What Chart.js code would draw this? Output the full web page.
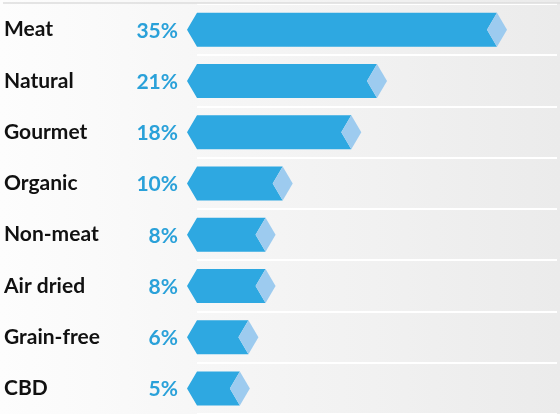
<!DOCTYPE html>
<html>
<head>
<meta charset="utf-8">
<script src="https://cdn.jsdelivr.net/npm/chart.js@4"></script>
<style>
  body { margin: 0; background: #fff; }
  #wrap { width: 560px; height: 414px; }
</style>
</head>
<body>
<div id="wrap"><canvas id="tiposChart"></canvas></div>
<script>
// dados do gráfico
const categorias = ['Meat', 'Natural', 'Gourmet', 'Organic', 'Non-meat', 'Air dried', 'Grain-free', 'CBD'];
const percentuais = [35, 21, 18, 10, 8, 8, 6, 5];

const azul = '#2ea8e1';
const azulClaro = '#9dcbef';
const fonte = 'Lato';

// fundo em degradê + linha cinza no topo
const fundoPlugin = {
  id: 'fundo',
  beforeDraw(chart) {
    const c = chart.ctx;
    const g = c.createLinearGradient(0, 0, chart.width, 0);
    g.addColorStop(0, '#fdfdfd');
    g.addColorStop(1, '#ebebeb');
    c.save();
    c.fillStyle = g;
    c.fillRect(0, 0, chart.width, chart.height);
    c.restore();
  },
  afterDraw(chart) {
    const c = chart.ctx;
    c.save();
    c.strokeStyle = '#dcdcdc';
    c.lineWidth = 1.5;
    c.beginPath();
    c.moveTo(3, 3);
    c.lineTo(chart.width, 3);
    c.stroke();
    c.restore();
  }
};

// barras em formato de seta + valores
const setasPlugin = {
  id: 'setas',
  afterDatasetsDraw(chart) {
    const c = chart.ctx;
    const meta = chart.getDatasetMeta(0);
    c.save();
    meta.data.forEach((bar, i) => {
      const p = bar.getProps(['x', 'y', 'base', 'height'], true);
      const top = p.y - p.height / 2;
      const bottom = p.y + p.height / 2;
      const ponta = 10;

      c.fillStyle = azul;
      c.beginPath();
      c.moveTo(p.base - ponta, p.y);
      c.lineTo(p.base, top);
      c.lineTo(p.x, top);
      c.lineTo(p.x - ponta, p.y);
      c.lineTo(p.x, bottom);
      c.lineTo(p.base, bottom);
      c.closePath();
      c.fill();

      c.fillStyle = azulClaro;
      c.beginPath();
      c.moveTo(p.x - ponta, p.y);
      c.lineTo(p.x, top);
      c.lineTo(p.x + ponta, p.y);
      c.lineTo(p.x, bottom);
      c.closePath();
      c.fill();

      c.fillStyle = '#2aa1d9';
      c.font = 'bold 21px ' + fonte;
      c.textAlign = 'right';
      c.textBaseline = 'alphabetic';
      c.fillText(percentuais[i] + '%', 178, p.y + 8);
    });
    c.restore();
  }
};

const ctx = document.getElementById('tiposChart').getContext('2d');
new Chart(ctx, {
  type: 'bar',
  data: {
    labels: categorias,
    datasets: [{
      data: percentuais,
      backgroundColor: 'transparent',
      barThickness: 34
    }]
  },
  options: {
    indexAxis: 'y',
    responsive: true,
    maintainAspectRatio: false,
    animation: false,
    layout: { padding: { left: 4, right: 3, top: 4, bottom: 0 } },
    plugins: {
      legend: { display: false },
      tooltip: { enabled: false }
    },
    scales: {
      x: {
        display: false,
        min: 0,
        max: 42
      },
      y: {
        afterFit(scale) {
          scale.width = 193;
          scale.paddingTop = 0;
          scale.paddingBottom = 0;
        },
        border: { display: false },
        grid: {
          offset: true,
          color: '#ffffff',
          lineWidth: 2,
          drawTicks: false
        },
        ticks: {
          crossAlign: 'far',
          color: '#111111',
          font: { family: fonte, size: 21, weight: 'bold' }
        }
      }
    }
  },
  plugins: [fundoPlugin, setasPlugin]
});
</script>
</body>
</html>
